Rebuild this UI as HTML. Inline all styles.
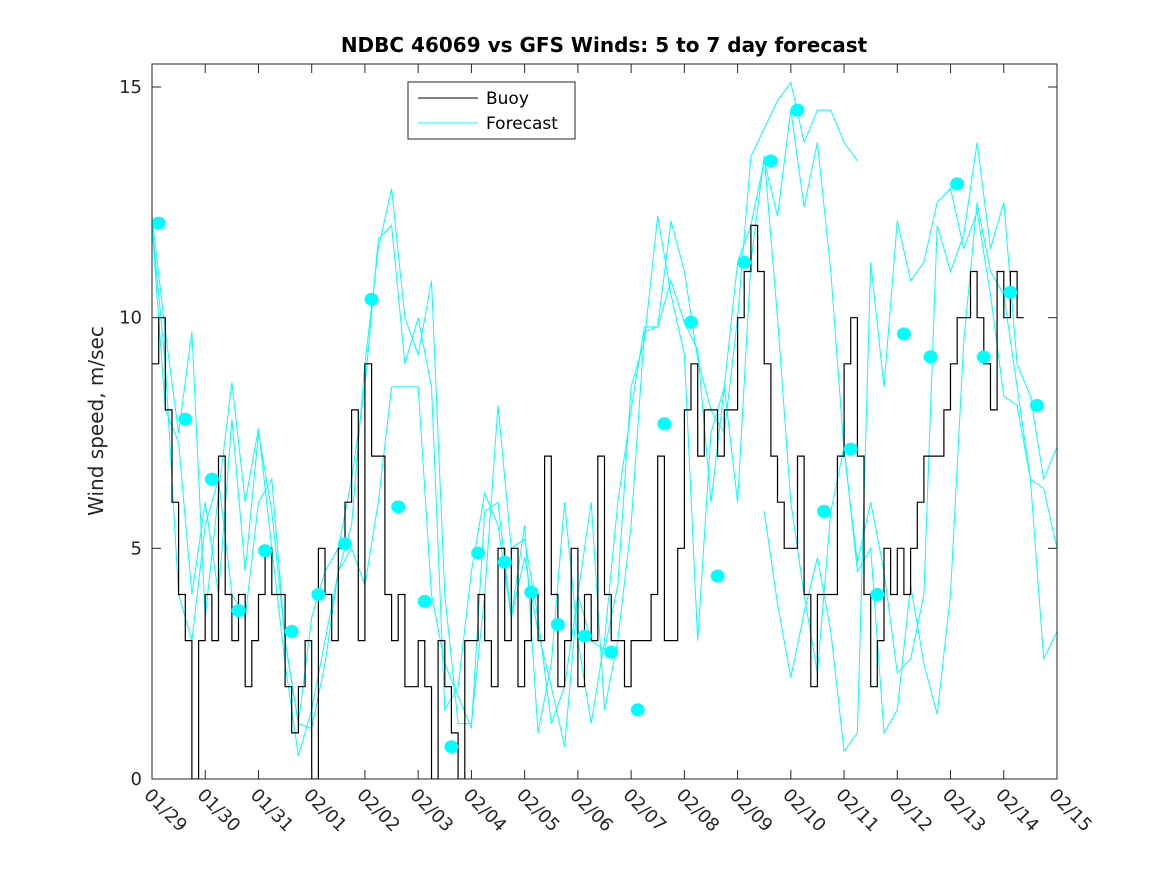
<!DOCTYPE html>
<html><head><meta charset="utf-8"><style>
html,body{margin:0;padding:0;background:#fff;}
svg{display:block;font-family:"DejaVu Sans","Liberation Sans",sans-serif;}
</style></head><body>
<svg id="chart" width="1167" height="875" viewBox="0 0 1167 875" xmlns="http://www.w3.org/2000/svg">
<defs><clipPath id="pc"><rect x="152" y="64" width="905" height="715"/></clipPath></defs>
<rect width="1167" height="875" fill="#fff"/>
<text x="604" y="52" text-anchor="middle" font-size="20" font-weight="bold" fill="#000">NDBC 46069 vs GFS Winds: 5 to 7 day forecast</text>
<text transform="translate(103,421) rotate(-90)" text-anchor="middle" font-size="20" fill="#262626">Wind speed, m/sec</text>
<g id="plot" clip-path="url(#pc)"></g>
<g id="axes"></g>
<g>
<rect x="408" y="82" width="167" height="57" fill="#fff" stroke="#262626" stroke-width="1"/>
<line x1="418" y1="98" x2="478" y2="98" stroke="#000" stroke-width="1"/>
<text x="486" y="104" font-size="17" fill="#000">Buoy</text>
<line x1="418" y1="123" x2="478" y2="123" stroke="#00ffff" stroke-width="1"/>
<text x="486" y="129" font-size="17" fill="#000">Forecast</text>
</g>
</svg>
<script>
const xTickLabels=["01/29","01/30","01/31","02/01","02/02","02/03","02/04","02/05","02/06","02/07","02/08","02/09","02/10","02/11","02/12","02/13","02/14","02/15"];
const yTicks=[0,5,10,15];
// buoy: 3-hourly values starting 01/29 00:00
const buoy=[9,10,8,6,4,3,0,3,4,3,7,4,3,4,2,3,4,5,4,4,2,1,2,3,0,5,4,3,5,6,8,3,9,7,7,4,3,4,2,2,3,2,0,3,2,1,0,3,3,4,3,2,5,3,5,2,3,4,3,7,4,2,3,5,2,4,3,7,4,3,3,2,3,3,3,4,7,3,3,5,8,9,7,8,8,7,8,8,10,11,12,11,9,7,6,5,5,7,4,2,4,4,4,7,9,10,7,4,2,3,5,4,5,4,5,6,7,7,7,8,9,10,10,11,10,9,8,11,10,11,10];
const buoyStep=0.125;
// forecast runs, 6-hourly
const fc1Start=0, fc1=[12.2,9.7,7.5,9.7,3.5,6.2,8.6,6,7.6,5,2.5,0.5,1.5,3,4.5,5.5,9,11.5,12.8,10,9.2,10.8,4,1.2,1.2,4,8.1,5,5.2,3.5,1.2,2,4,6,1.5,3,5.5,9.7,9.8,12.1,11,9.1,8,7.5,10,13.5,14.1,14.7,15.1,13.8,14.5,14.5,13.8,13.4];
const fc2Start=0, fc2=[12,8,7.3,4,6,4,7.8,4.5,7.5,5.8,3,1.2,3.5,4.5,5,6.5,8.5,11.7,12,9,10,8.5,1.5,2,4.5,6.2,5.5,3.5,5.5,1,2.5,6,3,1.2,3,6,8,9.8,9.8,10.8,9.9,9.3,6,8.5,11.2,12,13.4,12.2,14.5,12.4,13.8,11,7.1,4.7,6,4.5,2.3,2.6,4,12,11,11.8,13.8,11.5,12.5,9,8.3,6.5,7.2];
const fc3Start=0, fc3=[12,9,4,3,5.5,6.5,4,3.5,6,6.5,3,1.2,1.1,2.5,4.5,5,4.2,6,8.5,8.5,8.5,4,2.5,1.8,1.1,5.8,6,3.5,4.8,3.2,2,0.7,4,3,2.8,4.2,8.5,9.5,12.2,10.5,9.2,3.0,7.5,8.5,6,11.2,13.5,10,6,4.0,2.3,5.8,7.2,4.5,5,1,1.5,4.2,2.5,1.4,4,9.5,12.5,11,10.5,8.5,6.5,2.6,3.2];
const fc4Start=11.5, fc4=[5.8,3.8,2.2,3.6,4.8,3.2,0.6,1.0,11.2,8.5,12.1,10.8,11.2,12.5,12.8,11.5,12.3,10.5,8.3,8.1,6.5,6.3,5,8.0];
const fcStep=0.25;
// forecast markers (12-hourly from 03:00)
const dotStart=0.125, dotStep=0.5;
const dots=[12.05,7.8,6.5,3.65,4.95,3.2,4.0,5.1,10.4,5.9,3.85,0.7,4.9,4.7,4.05,3.35,3.1,2.75,1.5,7.7,9.9,4.4,11.2,13.4,14.5,5.8,7.15,4.0,9.65,9.15,12.9,9.15,10.55,8.1];

const L=152,R=1057,T=64,B=779;
const xS=d=>L+d*(R-L)/17;
const yS=v=>B-v*(B-87)/15;
const NS="http://www.w3.org/2000/svg";
const plot=document.getElementById('plot'), axes=document.getElementById('axes');
function mk(tag,attrs,parent){const e=document.createElementNS(NS,tag);for(const k in attrs)e.setAttribute(k,attrs[k]);parent.appendChild(e);return e;}

[[fc1,fc1Start],[fc2,fc2Start],[fc3,fc3Start],[fc4,fc4Start]].forEach((s,si)=>{
  const pts=s[0].map((v,i)=>xS(s[1]+i*fcStep).toFixed(1)+','+yS(v).toFixed(1)).join(' ');
  const p=mk('polyline',{points:pts,fill:'none',stroke:'#00ffff','stroke-width':1},plot);
  
  
});
{
  let d='';
  buoy.forEach((v,i)=>{const x0=xS(i*buoyStep),x1=xS((i+1)*buoyStep),y=yS(v);d+=(i?'L':'M')+x0.toFixed(1)+','+y.toFixed(1)+'L'+x1.toFixed(1)+','+y.toFixed(1);});
  const p=mk('path',{d:d,fill:'none',stroke:'#000','stroke-width':1.2},plot);
  
  
}
dots.forEach((v,i)=>{
  const c=mk('ellipse',{cx:xS(dotStart+i*dotStep),cy:yS(v),rx:7,ry:6.5,fill:'#00ffff'},plot);
  
  
});
const fr=mk('rect',{x:L,y:T,width:R-L,height:B-T,fill:'none',stroke:'#262626','stroke-width':1},axes);


yTicks.forEach(v=>{
  const y=yS(v);
  mk('line',{x1:L,y1:y,x2:L+9,y2:y,stroke:'#262626'},axes);
  mk('line',{x1:R,y1:y,x2:R-9,y2:y,stroke:'#262626'},axes);
  const t=mk('text',{x:L-10,y:y+6,'text-anchor':'end','font-size':18,fill:'#262626'},axes);
  t.textContent=v;
  
  
});
xTickLabels.forEach((lab,i)=>{
  const x=xS(i);
  mk('line',{x1:x,y1:B,x2:x,y2:B-9,stroke:'#262626'},axes);
  mk('line',{x1:x,y1:T,x2:x,y2:T+9,stroke:'#262626'},axes);
  const t=mk('text',{transform:'translate('+(x-9)+',796) rotate(45)','font-size':18,fill:'#262626'},axes);
  t.textContent=lab;
  
  
});
</script>
</body></html>
